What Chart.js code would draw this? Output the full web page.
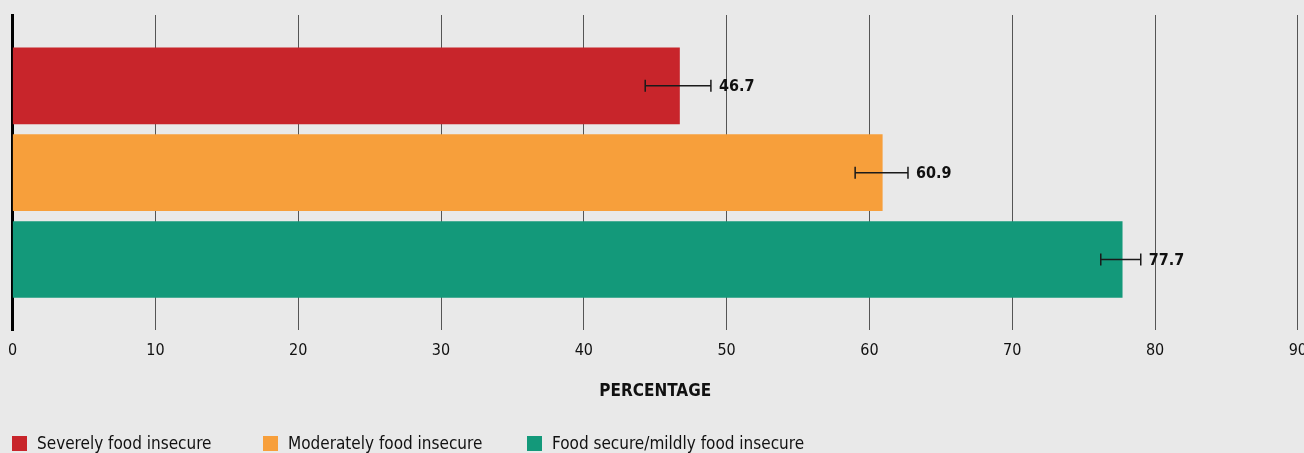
<!DOCTYPE html>
<html>
<head>
<meta charset="utf-8">
<script src="https://cdn.jsdelivr.net/npm/chart.js@4"></script>
<style>
  html, body { margin: 0; padding: 0; background: #e9e9e9; overflow: hidden; }
  #wrap { position: relative; width: 1321px; height: 453px; margin-left: -3px; }
  #legend { position: absolute; left: 12px; top: 433px; font-family: "DejaVu Sans Condensed", sans-serif; font-size: 17px; color: #111; white-space: nowrap; }
  #legend span.item { position: absolute; top: 0; display: flex; align-items: center; }
  #legend i { display: inline-block; width: 15px; height: 15px; margin-right: 10px; }
</style>
</head>
<body>
<div id="wrap"><canvas id="c"></canvas></div>
<div id="legend"></div>
<script>
const categories = ['Severely food insecure', 'Moderately food insecure', 'Food secure/mildly food insecure'];
const values = [46.7, 60.9, 77.7];
const errLow = [44.3, 59.0, 76.2];
const errHigh = [48.9, 62.7, 79.0];
const colors = ['#c8252b', '#f79f3b', '#13997a'];
const xTicks = [0, 10, 20, 30, 40, 50, 60, 70, 80, 90];
const legendX = [0, 251, 515];

const FONT = '"DejaVu Sans Condensed", "Liberation Sans Narrow", sans-serif';

// one dataset per category so each bar gets its own colour and legend entry
const datasets = categories.map((c, i) => ({
  label: c,
  data: [{ x: values[i], y: i }],
  backgroundColor: colors[i],
  barThickness: 76,
  grouped: false,
  borderWidth: 0
}));

// error bars + value labels
const errorBars = {
  id: 'errorBars',
  afterDatasetsDraw(chart) {
    const { ctx, scales: { x, y } } = chart;
    ctx.save();
    ctx.strokeStyle = '#1a1a1a';
    ctx.lineWidth = 1.5;
    values.forEach((v, i) => {
      const yy = y.getPixelForValue(i);
      const x1 = x.getPixelForValue(errLow[i]);
      const x2 = x.getPixelForValue(errHigh[i]);
      ctx.beginPath();
      ctx.moveTo(x1, yy); ctx.lineTo(x2, yy);
      ctx.moveTo(x1, yy - 6); ctx.lineTo(x1, yy + 6);
      ctx.moveTo(x2, yy - 6); ctx.lineTo(x2, yy + 6);
      ctx.stroke();
      ctx.fillStyle = '#111';
      ctx.font = 'bold 16px ' + FONT;
      ctx.textBaseline = 'middle';
      ctx.fillText(v.toFixed(1), x2 + 8, yy + 1);
    });
    ctx.restore();
  }
};

new Chart(document.getElementById('c'), {
  type: 'bar',
  data: { datasets },
  plugins: [errorBars],
  options: {
    indexAxis: 'y',
    responsive: true,
    maintainAspectRatio: false,
    animation: false,
    layout: { padding: { top: 15, left: 0, right: 0, bottom: 51 } },
    plugins: {
      tooltip: { enabled: false },
      legend: { display: false }
    },
    scales: {
      x: {
        type: 'linear',
        min: 0,
        max: 90,
        afterBuildTicks: (s) => { s.ticks = xTicks.map(v => ({ value: v })); },
        grid: { color: '#555', lineWidth: 1, drawTicks: false },
        border: { display: false },
        ticks: { color: '#111', padding: 11, font: { family: FONT, size: 16 } },
        title: {
          display: true,
          text: 'PERCENTAGE',
          color: '#111',
          font: { family: FONT, size: 17, weight: 'bold' },
          padding: { top: 10, bottom: 0 }
        }
      },
      y: {
        type: 'linear',
        reverse: true,
        offset: false,
        min: -0.816,
        max: 2.816,
        grid: { display: false, offset: false },
        border: { display: true, color: '#000', width: 3 },
        ticks: { display: false }
      }
    }
  }
});

// legend built from the same arrays
const lg = document.getElementById('legend');
categories.forEach((c, i) => {
  const s = document.createElement('span');
  s.className = 'item';
  s.style.left = legendX[i] + 'px';
  s.innerHTML = `<i style="background:${colors[i]}"></i>${c}`;
  lg.appendChild(s);
});
</script>
</body>
</html>
